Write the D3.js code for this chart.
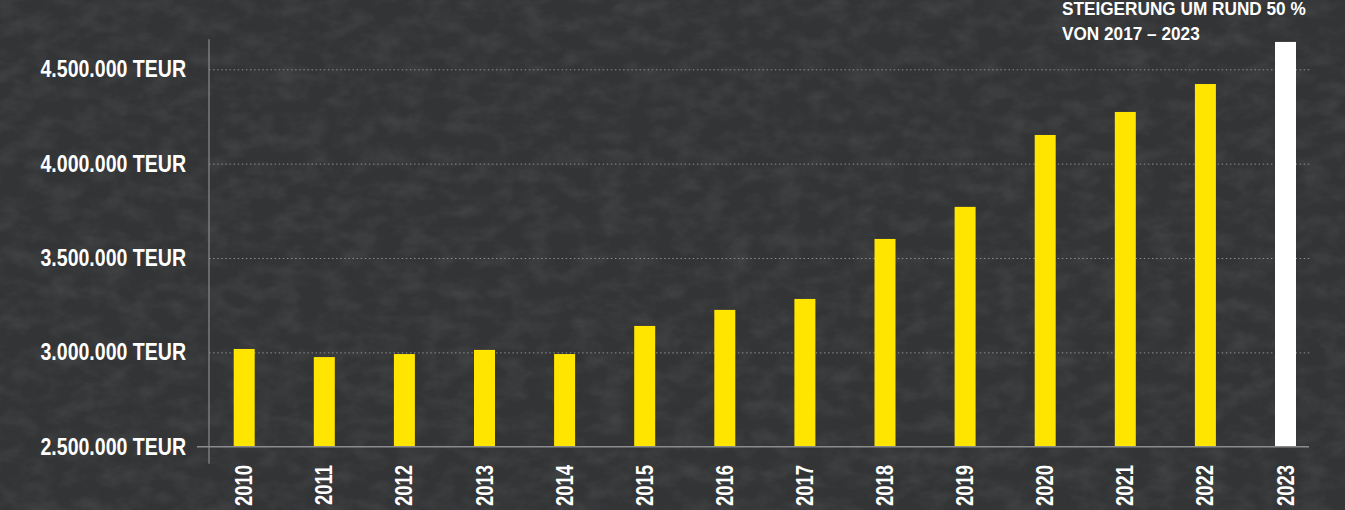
<!DOCTYPE html>
<html>
<head>
<meta charset="utf-8">
<script src="https://cdn.jsdelivr.net/npm/d3@7"></script>
<style>
  html, body { margin: 0; padding: 0; background: #333537; overflow: hidden; }
  text { font-family: "Liberation Sans", Arial, sans-serif; font-weight: bold; fill: #fff; }
</style>
</head>
<body>
<div id="app"></div>
<script>
// data
let years = ["2010", "2011", "2012", "2013", "2014", "2015", "2016", "2017", "2018", "2019", "2020", "2021", "2022", "2023"]
let umsatz = [3018000, 2975000, 2991000, 3013000, 2991000, 3140000, 3225000, 3283000, 3601000, 3771000, 4152000, 4274000, 4422000, 4645000]
let yTicks = [2500000, 3000000, 3500000, 4000000, 4500000]
let noteLines = ["STEIGERUNG UM RUND 50 %", "VON 2017 – 2023"]

let width = 1345
let height = 510

let de = d3.formatLocale({decimal: ",", thousands: ".", grouping: [3], currency: ["", " €"]})
let fmt = de.format(",")

// no condensed font installed, so squeeze the text horizontally
let narrow = 0.85

let svg = d3.select("#app").append("svg")
    .attr("width", width)
    .attr("height", height)

// slate background
let defs = svg.append("defs")
let filt = defs.append("filter").attr("id", "slate")
    .attr("x", 0).attr("y", 0).attr("width", "100%").attr("height", "100%")
filt.append("feTurbulence")
    .attr("type", "fractalNoise")
    .attr("baseFrequency", "0.04 0.06")
    .attr("numOctaves", 4)
    .attr("seed", 11)
filt.append("feColorMatrix")
    .attr("type", "matrix")
    .attr("values", "0 0 0 0 0.36  0 0 0 0 0.37  0 0 0 0 0.38  1.2 0 0 0 -0.45")

svg.append("rect").attr("width", width).attr("height", height).attr("fill", "#323436")
svg.append("rect").attr("width", width).attr("height", height)
    .attr("filter", "url(#slate)").attr("opacity", 0.2)

let y = d3.scaleLinear()
    .domain([2500000, 4500000])
    .range([446.7, 69.3])

let x = d3.scalePoint()
    .domain(years)
    .range([244.2, 1285.5])

let axisX = 209
let barW = 21

// dotted gridlines
let grid = svg.append("g")
    .attr("transform", `translate(${axisX},0)`)
    .call(d3.axisLeft(y).tickValues(yTicks.slice(1)).tickSize(-(1310 - axisX)).tickFormat(""))
grid.select(".domain").remove()
grid.selectAll("line")
    .attr("stroke", "#8c8e90")
    .attr("stroke-width", 1)
    .attr("stroke-dasharray", "1.5,2.6")

// y labels
let yAxis = svg.append("g")
    .attr("transform", `translate(186,0)`)
    .call(d3.axisLeft(y).tickValues(yTicks).tickSize(0).tickPadding(0).tickFormat(d => fmt(d) + " TEUR"))
yAxis.select(".domain").remove()
yAxis.selectAll("text")
    .attr("font-size", 23)
    .attr("font-family", null)
    .attr("fill", "#fff")
    .attr("transform", `scale(${narrow},1)`)

// bars
svg.append("g").selectAll("rect")
    .data(umsatz)
    .enter().append("rect")
    .attr("x", (d, i) => x(years[i]) - barW / 2)
    .attr("y", d => y(d))
    .attr("width", barW)
    .attr("height", d => y(2500000) - y(d))
    .attr("fill", (d, i) => i == years.length - 1 ? "#ffffff" : "#ffe500")

// axis lines
svg.append("line")
    .attr("x1", axisX).attr("x2", axisX)
    .attr("y1", y(4500000) - 30).attr("y2", y(2500000) + 17)
    .attr("stroke", "#8a8c8e").attr("stroke-width", 1.2)
svg.append("line")
    .attr("x1", 197).attr("x2", 1309)
    .attr("y1", y(2500000)).attr("y2", y(2500000))
    .attr("stroke", "#8a8c8e").attr("stroke-width", 1.6)

// year labels
svg.append("g").selectAll("text")
    .data(years)
    .enter().append("text")
    .attr("transform", d => `translate(${x(d) + 8},465) rotate(-90) scale(0.8,1)`)
    .attr("text-anchor", "end")
    .attr("font-size", 23)
    .text(d => d)

// note
svg.append("g").selectAll("text")
    .data(noteLines)
    .enter().append("text")
    .attr("transform", (d, i) => `translate(1062,${15 + i * 25}) scale(0.93,1)`)
    .attr("font-size", 18.5)
    .text(d => d)
</script>
</body>
</html>
